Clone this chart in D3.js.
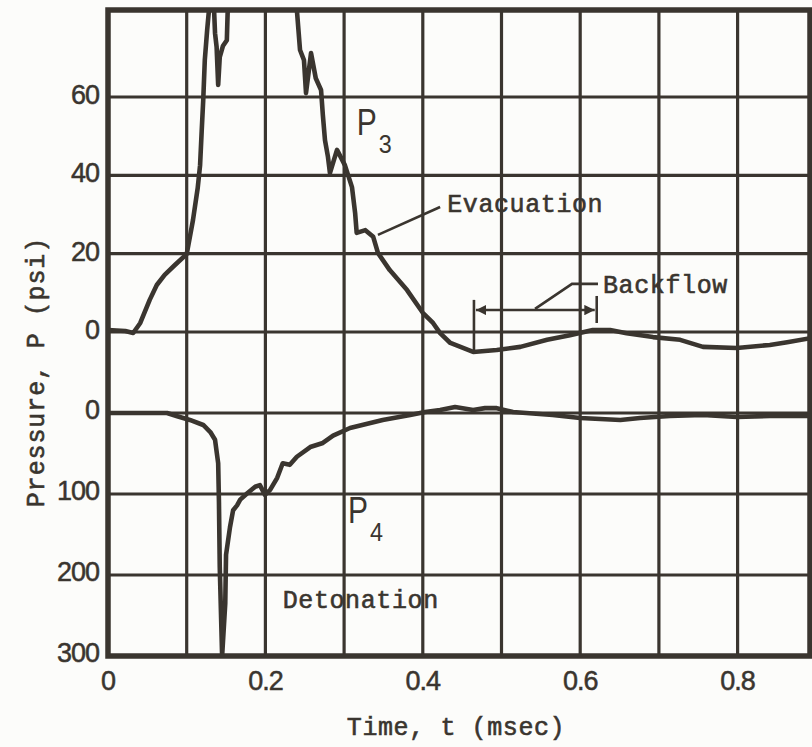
<!DOCTYPE html>
<html>
<head>
<meta charset="utf-8">
<script src="https://cdnjs.cloudflare.com/ajax/libs/d3/7.8.5/d3.min.js"></script>
<style>
  html, body { margin: 0; padding: 0; background: #fcfcfa; }
  svg { display: block; }
</style>
</head>
<body>
<svg id="chart" width="812" height="747"></svg>
<script>
// time in msec, pressures in psi
var p3Time = [0, 0.022, 0.032, 0.041, 0.053, 0.062, 0.072, 0.085, 0.100, 0.108, 0.114, 0.117, 0.119, 0.121, 0.123, 0.126, 0.130,
  0.134, 0.136, 0.138, 0.140, 0.142, 0.146, 0.151, 0.152, 0.155,
  0.238, 0.240, 0.244, 0.249, 0.2516, 0.258, 0.264, 0.2707, 0.273, 0.2757, 0.2795, 0.282, 0.291, 0.301, 0.310, 0.314, 0.316,
  0.327, 0.337, 0.343, 0.358, 0.380, 0.400, 0.413, 0.422, 0.435, 0.464, 0.494, 0.524, 0.558, 0.587, 0.616, 0.638, 0.659,
  0.6925, 0.727, 0.756, 0.799, 0.841, 0.863, 0.895];
var p3Value = [0.5, 0.25, -0.25, 2.3, 8.2, 12.0, 14.6, 17.1, 19.9, 28.6, 36.8, 42.6, 51.1, 59.2, 69.4, 77.1, 86,
  86, 76.3, 72.8, 63.1, 70.2, 73.0, 74.5, 81.4, 86,
  86, 82.2, 72.0, 69.4, 61.0, 71.2, 64.8, 61.8, 55.4, 49.0, 44.7, 40.6, 46.5, 42.6, 37.0, 30.4, 25.3,
  26.0, 24.3, 20.2, 15.8, 10.7, 4.9, 2.3, -0.3, -2.8, -5.1, -4.6, -3.8, -2.0, -0.8, 0.5, 0.5, -0.3,
  -1.3, -2.0, -3.8, -4.1, -3.3, -2.6, -1.5];

var p4Time = [0, 0.053, 0.075, 0.088, 0.104, 0.121, 0.130, 0.136, 0.140, 0.141, 0.142, 0.145, 0.149, 0.150, 0.155, 0.159,
  0.164, 0.168, 0.177, 0.187, 0.193, 0.1995, 0.206, 0.215, 0.222, 0.231, 0.240, 0.257, 0.273, 0.286, 0.3075, 0.349,
  0.384, 0.403, 0.422, 0.441, 0.464, 0.479, 0.494, 0.5146, 0.565, 0.600, 0.651, 0.676, 0.714, 0.756, 0.799, 0.841, 0.895];
var p4Value = [0, 0, 0, 4, 8.6, 14.8, 23.5, 33, 62, 111, 190, 300, 235, 175, 141, 120,
  114, 107, 99, 91, 89, 101, 95, 80, 62, 64, 54, 42, 37, 28, 18.5, 8.6,
  2.5, -1.2, -3.7, -7.4, -3.7, -6, -6, -1.2, 2.5, 6.2, 8.6, 6.2, 3.7, 2.5, 4.9, 3.7, 3.7];

var xTicks = [0, 0.2, 0.4, 0.6, 0.8];
var xGrid = [0.1, 0.2, 0.3, 0.4, 0.5, 0.6, 0.7, 0.8];
var p3Ticks = [0, 20, 40, 60];
var p4Ticks = [0, 100, 200, 300];
var p4Grid = [0, 100, 200];

var ink = "#3a352f";
var W = 812, H = 747;
var L = 108, R = 810, T = 10, B = 656;

var svg = d3.select("#chart");
svg.append("rect").attr("width", W).attr("height", H).attr("fill", "#fcfcfa");

var x = d3.scaleLinear().domain([0, 0.892]).range([L, R]);
var y3 = d3.scaleLinear().domain([0, 60]).range([332, 97]);   // P3, upper panel
var y4 = d3.scaleLinear().domain([0, 300]).range([413, B]);   // P4, lower panel, drawn downward

svg.append("clipPath").attr("id", "plot")
  .append("rect").attr("x", L).attr("y", T).attr("width", R - L).attr("height", B - T);

// grid
var grid = svg.append("g").attr("stroke", ink).attr("stroke-width", 3.2);
grid.selectAll(".vx").data(xGrid).enter().append("line")
  .attr("x1", function (d) { return x(d) }).attr("x2", function (d) { return x(d) })
  .attr("y1", T).attr("y2", B);
grid.selectAll(".h3").data(p3Ticks).enter().append("line")
  .attr("x1", L).attr("x2", R)
  .attr("y1", function (d) { return y3(d) }).attr("y2", function (d) { return y3(d) });
grid.selectAll(".h4").data(p4Grid).enter().append("line")
  .attr("x1", L).attr("x2", R)
  .attr("y1", function (d) { return y4(d) }).attr("y2", function (d) { return y4(d) });

// frame
svg.append("rect").attr("x", L).attr("y", T).attr("width", R - L).attr("height", B - T)
  .attr("fill", "none").attr("stroke", ink).attr("stroke-width", 5.5);

// traces
var line3 = d3.line().x(function (d, i) { return x(p3Time[i]) }).y(function (d) { return y3(d) });
var line4 = d3.line().x(function (d, i) { return x(p4Time[i]) }).y(function (d) { return y4(d) });
var traces = svg.append("g").attr("clip-path", "url(#plot)")
  .attr("fill", "none").attr("stroke", ink).attr("stroke-width", 4.6)
  .attr("stroke-linejoin", "round").attr("stroke-linecap", "round");
traces.append("path").attr("d", line3(p3Value));
traces.append("path").attr("d", line4(p4Value));

// tick labels
var tickFont = "'Liberation Sans', Arial, sans-serif";
var yl = svg.append("g").attr("font-family", tickFont).attr("font-size", 27).attr("fill", ink)
  .attr("stroke", ink).attr("stroke-width", 0.5).attr("letter-spacing", -1).attr("text-anchor", "end");
yl.selectAll(".t3").data(p3Ticks).enter().append("text")
  .attr("x", 99).attr("y", function (d) { return y3(d) + 7 }).text(function (d) { return d });
yl.selectAll(".t4").data(p4Ticks).enter().append("text")
  .attr("x", 99).attr("y", function (d) { return y4(d) + 6 }).text(function (d) { return d });
svg.append("g").attr("font-family", tickFont).attr("font-size", 27).attr("fill", ink)
  .attr("stroke", ink).attr("stroke-width", 0.5).attr("letter-spacing", -1).attr("text-anchor", "middle")
  .selectAll("text").data(xTicks).enter().append("text")
  .attr("x", function (d) { return x(d) }).attr("y", 690)
  .text(function (d) { return d === 0 ? "0" : d.toFixed(1) });

// axis titles (typewriter)
var mono = "'Liberation Mono', 'Courier New', monospace";
svg.append("text").attr("x", 456).attr("y", 735).attr("text-anchor", "middle")
  .attr("font-family", mono).attr("font-size", 25).attr("letter-spacing", 0.6).attr("fill", ink)
  .attr("stroke", ink).attr("stroke-width", 0.6)
  .text("Time, t (msec)");
svg.append("text").attr("transform", "translate(44,372) rotate(-90)").attr("text-anchor", "middle")
  .attr("font-family", mono).attr("font-size", 25).attr("letter-spacing", 0.9).attr("fill", ink)
  .attr("stroke", ink).attr("stroke-width", 0.6)
  .text("Pressure, P (psi)");

// curve labels: P with subscript
function pLabel(px, py, sub) {
  svg.append("text").attr("x", px).attr("y", py)
    .attr("font-family", tickFont).attr("font-size", 37).attr("fill", ink)
    .attr("textLength", 20).attr("lengthAdjust", "spacingAndGlyphs").text("P");
  svg.append("text").attr("x", px + 22).attr("y", py + 18)
    .attr("font-family", tickFont).attr("font-size", 26).attr("fill", ink)
    .attr("textLength", 13).attr("lengthAdjust", "spacingAndGlyphs").text(sub);
}
pLabel(x(0.316), y3(50.3), "3");
pLabel(x(0.305), y4(136), "4");

// annotations
var notes = svg.append("g").attr("font-family", mono).attr("font-size", 25).attr("letter-spacing", 0.6)
  .attr("fill", ink).attr("stroke", ink).attr("stroke-width", 0.6);
notes.append("text").attr("x", x(0.431)).attr("y", y3(30.6)).text("Evacuation");
notes.append("text").attr("x", x(0.629)).attr("y", y3(10)).text("Backflow");
notes.append("text").attr("x", x(0.222)).attr("y", y4(241)).text("Detonation");

var lead = svg.append("g").attr("fill", "none").attr("stroke", ink).attr("stroke-width", 2.6);
lead.append("path").attr("d", d3.line()([[x(0.343), y3(24.8)], [x(0.422), y3(31.9)]]));
lead.append("path").attr("d", d3.line()([[x(0.5426), y3(5.9)], [x(0.5896), y3(12.3)], [x(0.6226), y3(12.3)]]));

// backflow bracket
var bx0 = 0.465, bx1 = 0.621, by = 5.6;
svg.append("defs").append("marker").attr("id", "arr").attr("viewBox", "0 0 10 10")
  .attr("refX", 10).attr("refY", 5).attr("markerWidth", 4).attr("markerHeight", 4)
  .attr("orient", "auto-start-reverse")
  .append("path").attr("d", "M0,0L10,5L0,10z").attr("fill", ink);
lead.append("line").attr("x1", x(bx0) + 2).attr("x2", x(bx1) - 2).attr("y1", y3(by)).attr("y2", y3(by))
  .attr("marker-start", "url(#arr)").attr("marker-end", "url(#arr)");
lead.append("line").attr("x1", x(bx0)).attr("x2", x(bx0)).attr("y1", y3(8.2)).attr("y2", y3(-4.6));
lead.append("line").attr("x1", x(bx1)).attr("x2", x(bx1)).attr("y1", y3(9.2)).attr("y2", y3(2.3));
</script>
</body>
</html>
